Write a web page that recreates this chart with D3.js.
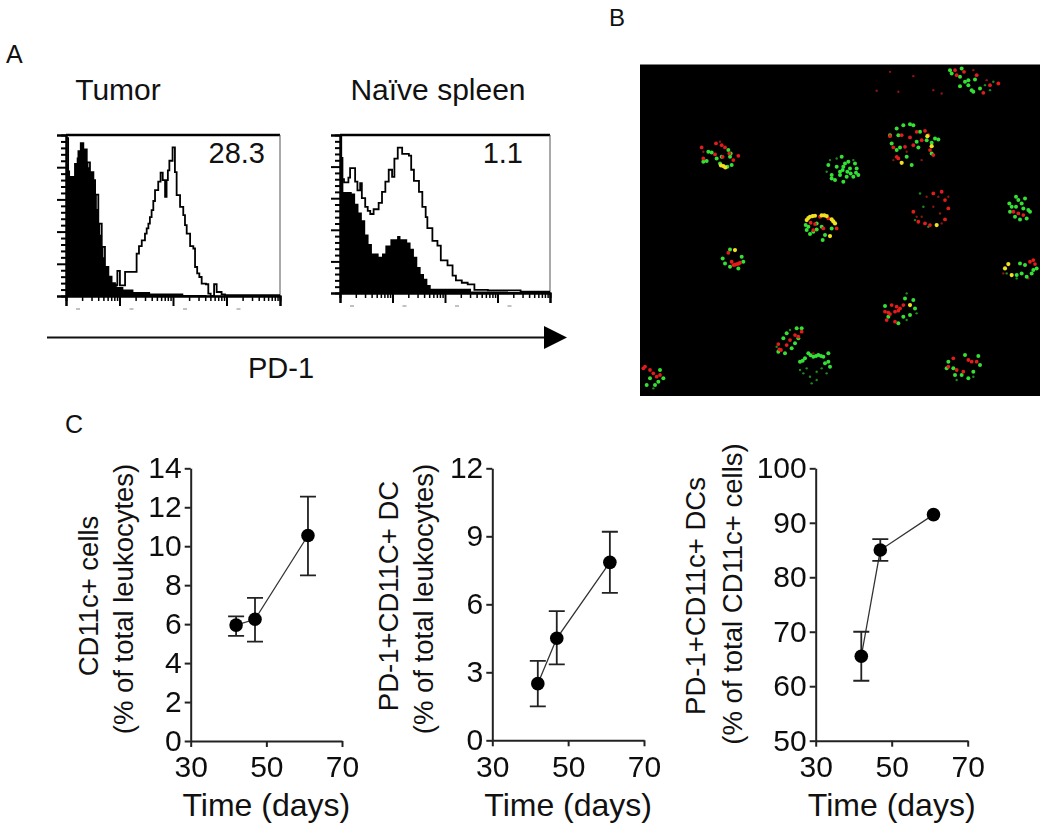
<!DOCTYPE html>
<html><head><meta charset="utf-8">
<script src="https://cdn.jsdelivr.net/npm/d3@7"></script>
<style>html,body{margin:0;padding:0;background:#fff}svg{display:block}text{font-family:"Liberation Sans",Arial,sans-serif;fill:#111}</style>
</head><body><svg id="c" width="1050" height="836"></svg>
<script>
// ---------- Panel A: histograms, [PD-1 channel %, count % of max]
const tumorIsotype=[[0.3,82],[1.2,78],[1.9,74],[3.4,74],[4.2,82],[5,86],[5.8,90],[6.9,95],[8.1,91],[9.7,83],[10.5,80],[11.2,77],[12.8,72],[13.6,63],[14.4,54],[15.1,45],[16,38],[16.7,30.5],[17.5,24],[18.2,18],[19.8,12],[21.3,7.7],[23.7,5.6],[26.8,4],[31.5,2.5],[39.3,1.5],[54.8,0.6],[65.7,0.2],[100,0.2]];
const tumorPD1=[[0.3,98],[1,74],[3.4,74],[4.2,82],[5.8,90],[6.9,95],[8.1,91],[9.7,83],[11.2,77],[12.8,72],[13.6,63],[15.1,45],[16.7,30.5],[18.2,18],[19.8,12],[21.3,8],[22.9,6.6],[24,15.6],[25.2,6.6],[26.8,6.6],[27.6,15],[32.2,15],[33,26.3],[34.1,31],[35.4,34.6],[36.9,38.8],[37.7,42],[38.5,45],[39.2,49],[40,53.3],[40.8,59],[41.6,65.8],[43.1,71],[44.2,76.6],[45.2,72],[46.3,61.6],[47,72],[47.6,78],[48.3,84],[49.8,92.3],[50.9,77],[51.7,62.7],[53.3,55.4],[54.8,50.2],[55.6,44],[56.4,38.8],[58,31],[59.5,29.5],[60.3,18],[61.3,14],[62.3,11.8],[63.4,7.7],[65.4,7.3],[66.5,1.5],[67.6,0],[69.2,7.3],[70.4,2.5],[72.7,1],[74.3,0.5],[100,0.5]];
const spleenIsotype=[[0.3,86],[1.6,64],[4,64],[5.6,63],[7.2,56.5],[8.8,51],[10.4,46],[12,37],[13.6,31],[15.2,25],[18.4,23],[20,25],[21.6,30],[24,34],[27.2,36],[28.8,34],[32,32],[33.6,28],[35.2,23],[36.8,16.5],[38.4,12],[40,9],[41.6,5],[43.2,2.7],[62.4,1],[80,0.6],[100,0.5]];
const spleenPD1=[[0,100],[0.6,72],[1.9,70],[4,73],[4.8,79],[6.4,79],[7.2,70.5],[8.3,65],[9.6,69.5],[10.4,60],[12,54.5],[13.2,52],[14.4,50],[16,53],[18.4,57],[20,64],[21.6,70.5],[23.2,78],[24.8,73.5],[25.9,85],[27.5,92],[29.6,88],[32.8,87],[33.9,78],[35.2,71],[37.6,64],[39.2,54.5],[40.8,48],[41.6,41],[44,33],[46.4,30],[48,20.7],[51.2,17.5],[53.6,11],[55.2,8],[58,6.5],[60.8,5.5],[64,2],[70.4,1.7],[86,0.8],[100,0.8]];
const histTitles=["Tumor","Naïve spleen"];
const gateValues=["28.3","1.1"];
const logMajor=[1,10,100,1000,10000];
const logMinor=[2,3,4,5,6,7,8,9,20,30,40,50,60,70,80,90,200,300,400,500,600,700,800,900,2000,3000,4000,5000,6000,7000,8000,9000];
const countMajor=[0,20,40,60,80,100];
const countMinor=[4,8,12,16,24,28,32,36,44,48,52,56,64,68,72,76,84,88,92,96];

// ---------- Panel B: fluorescence spots, [field x, field y]
const greenSpots=[[965,25],[935,40],[960,50],[985,60],[1005,58],[995,90],[960,78],[1020,85],[985,75],[1000,95],[930,30],[975,65],
[770,205],[810,192],[895,238],[755,250],[830,245],[875,248],[780,262],[815,315],[875,280],[840,215],[775,225],[800,290],[860,240],[750,225],[790,195],[770,270],[835,262],[820,195],[885,235],
[605,290],[625,305],[645,310],[590,320],[610,320],[630,325],[650,325],[575,345],[600,345],[620,350],[640,350],[655,345],[585,360],[610,365],[565,315],[600,335],[575,355],[615,310],[632,340],[648,338],[608,330],[622,335],
[205,275],[215,277],[200,303],[265,270],[270,290],[240,310],[262,320],[275,315],[190,305],[230,295],[245,290],[272,280],
[497,495],[500,510],[510,522],[520,515],[530,508],[548,540],[555,525],[530,490],[545,500],[575,505],[505,500],
[1128,410],[1108,430],[1115,440],[1145,430],[1165,450],[1170,455],[1110,455],[1125,470],[1140,478],[1160,475],[1150,445],[1128,440],[1155,415],[1135,420],
[270,568],[305,590],[248,595],[255,610],[270,620],[295,625],[310,605],
[1130,645],[1160,650],[1180,630],[1140,610],[1155,615],[1145,640],[1190,625],[1175,640],
[735,738],[795,715],[820,720],[775,790],[810,765],[745,770],[825,745],[790,770],
[485,805],[470,805],[440,820],[430,835],[415,875],[435,880],[455,865],[475,835],[465,850],
[480,905],[488,902],[495,895],[505,880],[512,886],[520,890],[528,888],[535,885],[543,888],[550,890],[565,880],[565,905],[555,910],[570,920],
[1015,888],[925,905],[920,925],[945,945],[965,945],[985,955],[1020,915],[975,885],[940,925],[1000,935],
[55,965],[45,975],[70,955],[30,955],[60,930],[20,975]];
const redSpots=[[950,45],[972,35],[1030,98],[1050,75],[1010,45],[945,30],[1075,70],
[750,228],[785,225],[855,212],[865,225],[795,260],[820,255],[770,290],[870,270],[880,285],[845,240],[760,262],[830,215],[810,232],[775,295],
[228,250],[255,262],[268,280],[225,283],[248,290],[295,287],[280,300],[185,262],[245,255],[190,295],
[525,492],[512,488],[540,470],[520,510],[565,475],[590,505],[550,505],
[905,395],[880,400],[915,420],[925,445],[820,455],[855,490],[870,495],[915,478],[835,485],
[1135,460],[1120,455],[1150,465],
[280,615],[285,614],[290,612],[295,611],[300,608],[265,578],[275,605],
[1170,605],[1180,600],[1185,612],
[750,762],[745,758],[735,755],[770,740],[780,745],[755,735],[765,755],[790,735],[765,785],[740,780],[775,752],
[423,870],[418,868],[485,815],[465,825],[450,840],[475,830],[440,855],[415,852],
[995,905],[985,900],[925,920],[970,935],[1010,905],[940,895],[950,930],
[15,920],[40,940],[50,950],[30,930],[10,925],[60,945]];
const yellowSpots=[[785,308],[862,228],[875,258],[250,318],[243,316],[256,322],
[500,480],[505,474],[510,470],[518,468],[525,467],[545,466],[553,466],[560,468],[575,478],[580,484],[585,490],
[285,570],[1095,625],[1115,645],[1105,612],[810,735],[570,528],[890,495]];
const dimRedSpots=[[750,35],[820,48],[710,92],[775,95],[905,100],[880,90],[860,410],[895,410],[880,440],[845,470],[925,410],[900,460],[830,470],[905,490],[1040,60],[1000,30],[800,275],[845,300],[760,300],[1090,640],[1165,655],[520,880],[190,275],[240,245]];
const dimGreenSpots=[[840,400],[865,500],[490,940],[510,950],[530,935],[545,925],[515,970],[480,930],[560,940],[500,925],[530,960],[850,440],[825,480],[1050,90],[1060,65],[1035,75],[950,960],[1000,950],[800,700],[830,760],[800,780],[560,335],[590,295],[640,300],[570,300],[40,985],[1130,655],[1100,640],[450,810],[410,860]];

// ---------- Panel C: line charts
const days=[42,47,61];
const xTicks=[30,50,70];
const leukMean=[5.95,6.25,10.55], leukLow=[5.4,5.1,8.5], leukHigh=[6.4,7.35,12.55];
const leukTicks=[0,2,4,6,8,10,12,14];
const pdMean=[2.5,4.5,7.85], pdLow=[1.5,3.35,6.5], pdHigh=[3.5,5.7,9.2];
const pdTicks=[0,3,6,9,12];
const dcMean=[65.5,85,91.5], dcLow=[61,83,91.5], dcHigh=[70,87,91.5];
const dcTicks=[50,60,70,80,90,100];

const svg=d3.select("#c");
const defs=svg.append("defs");
defs.append("filter").attr("id","soft").append("feGaussianBlur").attr("stdDeviation",0.5);
defs.append("filter").attr("id","lite").append("feGaussianBlur").attr("stdDeviation",0.3);

function label(t,x,y,size,anchor){return svg.append("text").attr("x",x).attr("y",y).attr("font-size",size).attr("text-anchor",anchor||"start").text(t);}
label("A",6,63,25); label("B",609,26,24); label("C",65,433,25);
label("PD-1",248,378,29);

// arrow
svg.append("line").attr("x1",47).attr("x2",546).attr("y1",337.5).attr("y2",337.5).attr("stroke","#111").attr("stroke-width",2.2);
svg.append("path").attr("d",d3.line()([[544,326],[567,337.5],[544,349]])+"Z").attr("fill","#000");

function hist(o){
  const g=svg.append("g").attr("filter","url(#lite)");
  const x=d3.scaleLinear().domain([0,100]).range([o.x0,o.x1]);
  const y=d3.scaleLinear().domain([0,100]).range([o.y0,o.y1]);
  const lx=d3.scaleLog().domain([1,10000]).range([o.x0,o.x1]);
  g.append("path").attr("d",`M${o.x0},${o.y1}H${o.x1}`).attr("stroke","#000").attr("stroke-width",2.4).attr("fill","none");
  g.append("path").attr("d",`M${o.x1},${o.y1}V${o.y0}`).attr("stroke","#555").attr("stroke-width",1).attr("fill","none");
  g.append("path").attr("d",d3.area().x(d=>x(d[0])).y0(o.y0).y1(d=>y(d[1])).curve(d3.curveStepAfter)(o.filled)).attr("fill","#000");
  g.append("path").attr("d",d3.line().x(d=>x(d[0])).y(d=>y(d[1])).curve(d3.curveStepAfter)(o.open)).attr("fill","none").attr("stroke","#000").attr("stroke-width",1.8);
  const ax=(scale,vals,len,w,orient,pos)=>{
    const a=g.append("g").attr("transform",orient==="b"?`translate(0,${pos})`:`translate(${pos},0)`)
      .call((orient==="b"?d3.axisBottom(scale):d3.axisLeft(scale)).tickValues(vals).tickSize(len).tickFormat(""));
    a.selectAll("line").attr("stroke","#000").attr("stroke-width",w);
    a.select(".domain").attr("stroke","#000").attr("stroke-width",2);
  };
  ax(y,countMinor,5,2,"l",o.x0);
  ax(y,countMajor,9,2,"l",o.x0);
  ax(lx,logMinor,5,1.5,"b",o.y0);
  ax(lx,logMajor,10,2,"b",o.y0);
  logMajor.forEach((v,i)=>{ if(i<4) g.append("line").attr("x1",lx(v)+o.clip-2).attr("x2",lx(v)+o.clip+2).attr("y1",o.y0+13).attr("y2",o.y0+13).attr("stroke","#999").attr("stroke-width",1.2); });
  svg.append("text").attr("x",o.tx).attr("y",100).attr("font-size",30).attr("text-anchor","middle").text(o.title);
  svg.append("text").attr("x",o.gx).attr("y",163).attr("font-size",29).attr("text-anchor","end").attr("letter-spacing",o.gs).text(o.gate);
}
hist({x0:66,x1:280,y0:296,y1:135,filled:tumorIsotype,open:tumorPD1,title:histTitles[0],gate:gateValues[0],tx:118,gx:265,gs:0,clip:12});
hist({x0:340,x1:550,y0:293,y1:135,filled:spleenIsotype,open:spleenPD1,title:histTitles[1],gate:gateValues[1],tx:438,gx:523,gs:0,clip:12});

// Panel B
const fx=d3.scaleLinear().domain([0,1200]).range([640,1040]);
const fy=d3.scaleLinear().domain([13,1008]).range([64.5,396]);
svg.append("rect").attr("x",fx(0)).attr("y",fy(13)).attr("width",fx(1200)-fx(0)).attr("height",fy(1008)-fy(13)).attr("fill","#000");
const spots=svg.append("g").attr("filter","url(#soft)");
function drawSpots(a,c,r){spots.append("g").selectAll("circle").data(a).join("circle").attr("cx",d=>fx(d[0])).attr("cy",d=>fy(d[1])).attr("r",r).attr("fill",c);}
drawSpots(dimGreenSpots,"#1f8a1f",1.2);
drawSpots(dimRedSpots,"#8a1414",1.2);
drawSpots(greenSpots,"#35e035",2);
drawSpots(redSpots,"#e01c1c",1.9);
drawSpots(yellowSpots,"#f0e020",2.1);

// Panel C
function line(o){
  const g=svg.append("g").attr("filter","url(#lite)");
  const x=d3.scaleLinear().domain([30,70]).range([o.x0,o.x1]);
  const y=d3.scaleLinear().domain(o.yd).range([o.y0,o.y1]);
  const ax=g.append("g").attr("transform",`translate(0,${o.y0})`).call(d3.axisBottom(x).tickValues(xTicks).tickSize(6).tickSizeOuter(0).tickPadding(3));
  const ay=g.append("g").attr("transform",`translate(${o.x0},0)`).call(d3.axisLeft(y).tickValues(o.ticks).tickSize(6).tickSizeOuter(0).tickPadding(3));
  [ax,ay].forEach(a=>{a.selectAll("line,path").attr("stroke","#222").attr("stroke-width",2);a.selectAll("text").attr("font-size",30).attr("font-family",'"Liberation Sans",Arial,sans-serif').attr("fill","#111");});
  ax.selectAll("text").attr("y",15);
  g.append("path").attr("d",d3.line().x((d,i)=>x(days[i])).y(d=>y(d))(o.mean)).attr("fill","none").attr("stroke","#333").attr("stroke-width",1.3);
  days.forEach((d,i)=>{
    if(o.high[i]===o.low[i])return;
    g.append("path").attr("d",`M${x(d)},${y(o.low[i])}V${y(o.high[i])}M${x(d)-8},${y(o.low[i])}h16M${x(d)-8},${y(o.high[i])}h16`).attr("fill","none").attr("stroke","#222").attr("stroke-width",1.8);
  });
  g.selectAll("circle").data(o.mean).join("circle").attr("cx",(d,i)=>x(days[i])).attr("cy",d=>y(d)).attr("r",6.8).attr("fill","#000");
  svg.append("text").attr("x",(o.x0+o.x1)/2).attr("y",816).attr("font-size",32).attr("text-anchor","middle").text("Time (days)");
  o.labels.forEach((t,i)=>{
    svg.append("text").attr("transform",`translate(${o.lx[i]},${o.ly[i]}) rotate(-90)`).attr("font-size",o.fs).attr("text-anchor","middle").text(t);
  });
}
line({x0:190.7,x1:342,y0:741,y1:468.3,yd:[0,14],ticks:leukTicks,mean:leukMean,low:leukLow,high:leukHigh,labels:["CD11c+ cells","(% of total leukocytes)"],lx:[98,133],ly:[596,599],fs:27.5});
line({x0:492.3,x1:644,y0:740.3,y1:468.3,yd:[0,12],ticks:pdTicks,mean:pdMean,low:pdLow,high:pdHigh,labels:["PD-1+CD11C+ DC","(% of total leukocytes)"],lx:[398,433],ly:[596,599],fs:27.5});
line({x0:815.7,x1:967.7,y0:740.7,y1:468.3,yd:[50,100],ticks:dcTicks,mean:dcMean,low:dcLow,high:dcHigh,labels:["PD-1+CD11c+ DCs","(% of total CD11c+ cells)"],lx:[705,742],ly:[596,594],fs:27.5});
</script></body></html>
